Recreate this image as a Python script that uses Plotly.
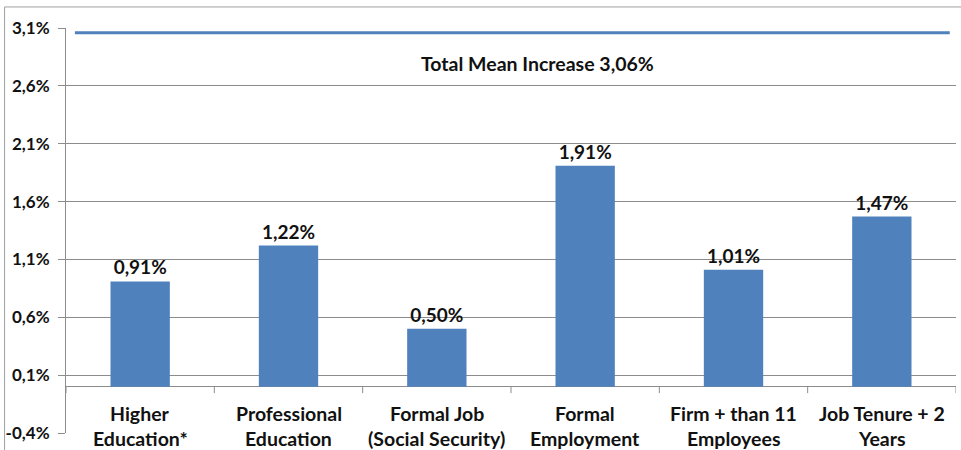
import plotly.graph_objects as go

categories = ["Higher<br>Education*", "Professional<br>Education", "Formal Job<br>(Social Security)",
              "Formal<br>Employment", "Firm + than 11<br>Employees", "Job Tenure + 2<br>Years"]
values = [0.91, 1.22, 0.50, 1.91, 1.01, 1.47]
total_mean = 3.06
y_ticks = [-0.4, 0.1, 0.6, 1.1, 1.6, 2.1, 2.6, 3.1]
y_tick_labels = [f"{v:.1f}".replace(".", ",") + "%" for v in y_ticks]

FONT = "Lato"
BAR = "#4F81BD"
GRID = "#8c8c8c"
TXT = "#111111"

def bold(size):
    return dict(family=FONT, size=size, color=TXT, weight="bold")

x = list(range(len(categories)))
fig = go.Figure()
fig.add_trace(go.Bar(
    x=x, y=values, marker=dict(color=BAR, line=dict(width=0)),
    texttemplate="%{y:.2f}%", textposition="outside", cliponaxis=False,
    textfont=bold(19),
))

shapes = []
# total mean line
shapes.append(dict(type="line", xref="paper", yref="y", x0=0.01, x1=0.993,
                   y0=total_mean, y1=total_mean, line=dict(color=BAR, width=3)))
# x-axis tick marks at category boundaries
for k in range(len(categories) + 1):
    shapes.append(dict(type="line", xref="x", yref="y", x0=k - 0.5, x1=k - 0.5,
                       y0=0, y1=-0.055, line=dict(color=GRID, width=1)))
# outer chart frame (top and left)
shapes.append(dict(type="line", xref="paper", yref="paper", x0=-0.069, x1=1.01,
                   y0=1.052, y1=1.052, line=dict(color="#a0a0a0", width=1)))
shapes.append(dict(type="line", xref="paper", yref="paper", x0=-0.069, x1=-0.069,
                   y0=-0.05, y1=1.052, line=dict(color="#a0a0a0", width=1)))

annotations = []
for xi, lab in zip(x, categories):
    lines = lab.split("<br>")
    for j, ln in enumerate(lines):
        annotations.append(dict(x=xi, y=0, xref="x", yref="y", text=ln, showarrow=False,
                                yanchor="middle", yshift=-27 - 25 * j, font=bold(19.5)))
annotations.append(dict(x=2.68, y=total_mean, xref="x", yref="y",
                        text="Total Mean Increase " + f"{total_mean:.2f}".replace(".", ",") + "%",
                        showarrow=False, yanchor="middle", yshift=-31, font=bold(19.5)))

fig.update_layout(
    width=961, height=450,
    margin=dict(l=66, r=5, t=28, b=17),
    paper_bgcolor="white", plot_bgcolor="white",
    separators=",.",
    showlegend=False,
    bargap=0.6,
    shapes=shapes,
    annotations=annotations,
    xaxis=dict(range=[-0.5, len(categories) - 0.5], showticklabels=False, showgrid=False,
               zeroline=False, showline=False, ticks=""),
    yaxis=dict(range=[y_ticks[0], y_ticks[-1]], tickmode="array", tickvals=y_ticks,
               ticktext=y_tick_labels,
               showgrid=True, gridcolor=GRID, gridwidth=1,
               zeroline=True, zerolinecolor=GRID, zerolinewidth=1,
               showline=True, linecolor=GRID, linewidth=1,
               ticks="outside", ticklen=7, tickcolor=GRID,
               ticklabelstandoff=5,
               tickfont=bold(17)),
)

fig.write_html("out.html")
